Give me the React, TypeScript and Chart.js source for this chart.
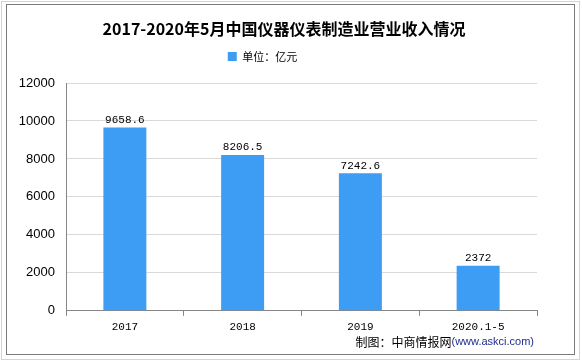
import React, { useEffect, useRef } from "react";
import { Chart, registerables } from "chart.js";

Chart.register(...registerables);

const categories = ["2017", "2018", "2019", "2020.1-5"];
const revenue = [9658.6, 8206.5, 7242.6, 2372];
const valueLabels = ["9658.6", "8206.5", "7242.6", "2372"];
const yTicks = [0, 2000, 4000, 6000, 8000, 10000, 12000];
const titleText = "2017-2020年5月中国仪器仪表制造业营业收入情况";
const seriesName = "单位：亿元";
const sourceLabel = "制图：中商情报网";
const sourceUrl = "(www.askci.com)";

const BAR_COLOR = "#3d9cf3";

const framePlugin = {
  id: "frame",
  beforeDraw(chart: any) {
    const ctx = chart.ctx;
    ctx.save();
    ctx.fillStyle = "#ffffff";
    ctx.fillRect(0, 0, chart.width, chart.height);
    ctx.restore();
  },
  afterDraw(chart: any) {
    const ctx = chart.ctx;
    ctx.save();
    ctx.lineWidth = 1;
    ctx.strokeStyle = "#d4d4d4";
    ctx.strokeRect(1.5, 1.5, 578, 358);
    ctx.strokeStyle = "#7a7a7a";
    ctx.strokeRect(6.5, 4.5, 568, 350);
    // source text
    ctx.textBaseline = "middle";
    ctx.textAlign = "right";
    ctx.font = "11px 'Liberation Sans', Arial, sans-serif";
    ctx.fillStyle = "#1f2d8c";
    const rightX = 534;
    const y = 342;
    ctx.fillText(sourceUrl, rightX, y);
    const w = ctx.measureText(sourceUrl).width;
    ctx.font = "12px 'Noto Sans CJK SC', sans-serif";
    ctx.fillStyle = "#000000";
    ctx.fillText(sourceLabel, rightX - w, y);
    ctx.restore();
  },
};

const valueLabelPlugin = {
  id: "valueLabels",
  afterDatasetsDraw(chart: any) {
    const ctx = chart.ctx;
    const meta = chart.getDatasetMeta(0);
    ctx.save();
    ctx.font = "11px 'Liberation Mono', 'DejaVu Sans Mono', monospace";
    ctx.fillStyle = "#000000";
    ctx.textAlign = "center";
    ctx.textBaseline = "bottom";
    meta.data.forEach((bar: any, i: number) => {
      ctx.fillText(valueLabels[i], bar.x, bar.y - 2);
    });
    ctx.restore();
  },
};

// position the title and legend boxes like the reference
const headerPlugin = {
  id: "headerPlace",
  afterLayout(chart: any) {
    const t = chart.titleBlock;
    if (t) {
      const dy = 0 - t.top;
      t.top += dy;
      t.bottom += dy;
      t.left += 10.5;
      t.right += 10.5;
    }
    const l = chart.legend;
    if (l) {
      const dy = 41 - l.top;
      l.top += dy;
      l.bottom += dy;
      l.left -= 11;
      l.right -= 11;
    }
  },
};

export default function App() {
  const ref = useRef<HTMLCanvasElement | null>(null);

  useEffect(() => {
    if (!ref.current) return;
    const chart = new Chart(ref.current, {
      type: "bar",
      data: {
        labels: categories,
        datasets: [
          {
            label: seriesName,
            data: revenue,
            backgroundColor: BAR_COLOR,
            borderWidth: 0,
            categoryPercentage: 1,
            barPercentage: 0.365,
          },
        ],
      },
      options: {
        responsive: false,
        animation: false,
        devicePixelRatio: 1,
        layout: { padding: { left: 10, right: 45, top: 0, bottom: 22 } },
        plugins: {
          title: {
            display: true,
            text: titleText,
            color: "#000000",
            font: { family: "'Noto Sans CJK SC', sans-serif", size: 16, weight: "bold", lineHeight: 1.2 },
            padding: { top: 19, bottom: 3 },
          },
          legend: {
            display: true,
            position: "top",
            labels: {
              boxWidth: 9,
              boxHeight: 9,
              padding: 10,
              color: "#000000",
              font: { family: "'Noto Sans CJK SC', sans-serif", size: 11 },
            },
          },
          tooltip: { enabled: false },
        },
        scales: {
          x: {
            grid: {
              display: true,
              drawOnChartArea: false,
              drawTicks: true,
              tickLength: 5,
              color: "#868686",
              offset: true,
            },
            border: { display: true, color: "#868686", width: 1 },
            ticks: {
              color: "#000000",
              padding: 5,
              font: { family: "'Liberation Mono', 'DejaVu Sans Mono', monospace", size: 11 },
            },
          },
          y: {
            min: 0,
            max: 12000,
            afterBuildTicks(scale: any) {
              scale.ticks = yTicks.map((v) => ({ value: v }));
            },
            afterFit(scale: any) {
              scale.width = 56;
              scale.paddingTop = 83;
            },
            grid: { color: "#d9d9d9", drawTicks: false },
            border: { display: true, color: "#868686", width: 1 },
            ticks: {
              color: "#000000",
              padding: 11,
              font: { family: "'Liberation Sans', Arial, sans-serif", size: 13 },
              callback: (v: any) => String(v),
            },
          },
        },
      },
      plugins: [framePlugin, valueLabelPlugin, headerPlugin],
    });
    return () => chart.destroy();
  }, []);

  return (
    <div style={{ position: "absolute", left: 0, top: 0, width: 582, height: 361 }}>
      <canvas ref={ref} width={582} height={361} />
    </div>
  );
}
